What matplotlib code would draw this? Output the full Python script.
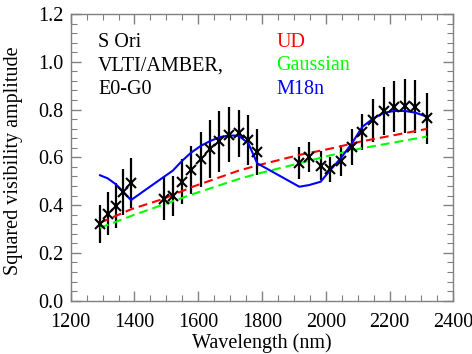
import matplotlib
matplotlib.use("Agg")
import matplotlib.pyplot as plt
from matplotlib.ticker import MultipleLocator

plt.rcParams['font.family'] = ['Liberation Serif', 'DejaVu Serif']

# AMBER data
wavelength = [1292, 1316, 1341, 1365, 1389, 1493, 1520, 1549, 1578, 1608, 1637,
              1666, 1697, 1727, 1757, 1785, 1917, 1948, 1984, 2013, 2047, 2082,
              2115, 2149, 2183, 2215, 2249, 2281, 2317]
vis2 = [0.321, 0.363, 0.398, 0.455, 0.491, 0.427, 0.438, 0.498, 0.546, 0.592, 0.635,
        0.668, 0.695, 0.700, 0.673, 0.624, 0.578, 0.600, 0.565, 0.550, 0.586, 0.642,
        0.707, 0.756, 0.794, 0.812, 0.815, 0.812, 0.763]
vis2_err = [0.080, 0.090, 0.095, 0.095, 0.105, 0.090, 0.085, 0.095, 0.100, 0.115, 0.120,
            0.128, 0.116, 0.098, 0.105, 0.096, 0.067, 0.063, 0.060, 0.053, 0.065, 0.075,
            0.075, 0.090, 0.100, 0.107, 0.112, 0.112, 0.107]

# model curves
m18n = [0.525, 0.512, 0.488, 0.456, 0.421, 0.519, 0.544, 0.585, 0.620, 0.648, 0.668,
        0.684, 0.692, 0.690, 0.659, 0.575, 0.477, 0.484, 0.498, 0.545, 0.596, 0.659,
        0.728, 0.763, 0.787, 0.794, 0.794, 0.787, 0.770]
model_wl = [1292, 1390, 1490, 1585, 1726, 1785, 1917, 2013, 2113, 2317]
ud = [0.326, 0.383, 0.426, 0.478, 0.544, 0.566, 0.610, 0.636, 0.667, 0.719]
gauss = [0.305, 0.355, 0.402, 0.447, 0.509, 0.531, 0.575, 0.608, 0.638, 0.687]

fig = plt.figure(figsize=(4.72, 3.54), dpi=100)
ax = fig.add_axes([0.1498, 0.1506, 0.8106, 0.8099])

ax.errorbar(wavelength, vis2, yerr=vis2_err, fmt='none', ecolor='black',
            elinewidth=1.6, capsize=0, zorder=2)
ax.plot(model_wl, ud, color='#ff0000', lw=1.5, linestyle=(0, (4.3, 2.4)), zorder=3)
ax.plot(model_wl, gauss, color='#00ff00', lw=1.5, linestyle=(0, (4.3, 2.4)), zorder=3)
ax.plot(wavelength, m18n, color='#0000ff', lw=1.5, zorder=4)
ax.plot(wavelength, vis2, 'x', color='black', ms=7.5, mew=1.5, zorder=5)

ax.set_xlim(1200, 2400)
ax.set_ylim(0.0, 1.2)
ax.xaxis.set_major_locator(MultipleLocator(200))
ax.xaxis.set_minor_locator(MultipleLocator(50))
ax.yaxis.set_major_locator(MultipleLocator(0.2))
ax.yaxis.set_minor_locator(MultipleLocator(0.04))
ax.yaxis.set_major_formatter(plt.FormatStrFormatter('%.1f'))

for s in ax.spines.values():
    s.set_color('#808080')
    s.set_linewidth(1.0)
ax.tick_params(which='both', direction='in', top=True, right=True,
               color='#808080', labelsize=14.5)
ax.tick_params(which='major', length=7, width=1.0)
ax.tick_params(which='minor', length=4, width=0.8)
ax.tick_params(axis='x', pad=9)
ax.tick_params(axis='y', pad=5)

ax.set_xlabel('Wavelength (nm)', fontsize=14.5, labelpad=1)
ax.set_ylabel('Squared visibility amplitude', fontsize=14.5)
ax.yaxis.set_label_coords(-0.125, 0.49)

left_lines = ['S Ori', 'VLTI/AMBER,', 'E0-G0']
legend_names = ['UD', 'Gaussian', 'M18n']
legend_colors = ['#ff0000', '#00ff00', '#0000ff']
for i, (t, n, c) in enumerate(zip(left_lines, legend_names, legend_colors)):
    yy = 0.885 - i * 0.082
    ax.text(0.072, yy, t, transform=ax.transAxes, fontsize=14.5, va='baseline')
    ax.text(0.537, yy, n, transform=ax.transAxes, fontsize=14.5, va='baseline', color=c)

fig.savefig('out.png', dpi=100)
